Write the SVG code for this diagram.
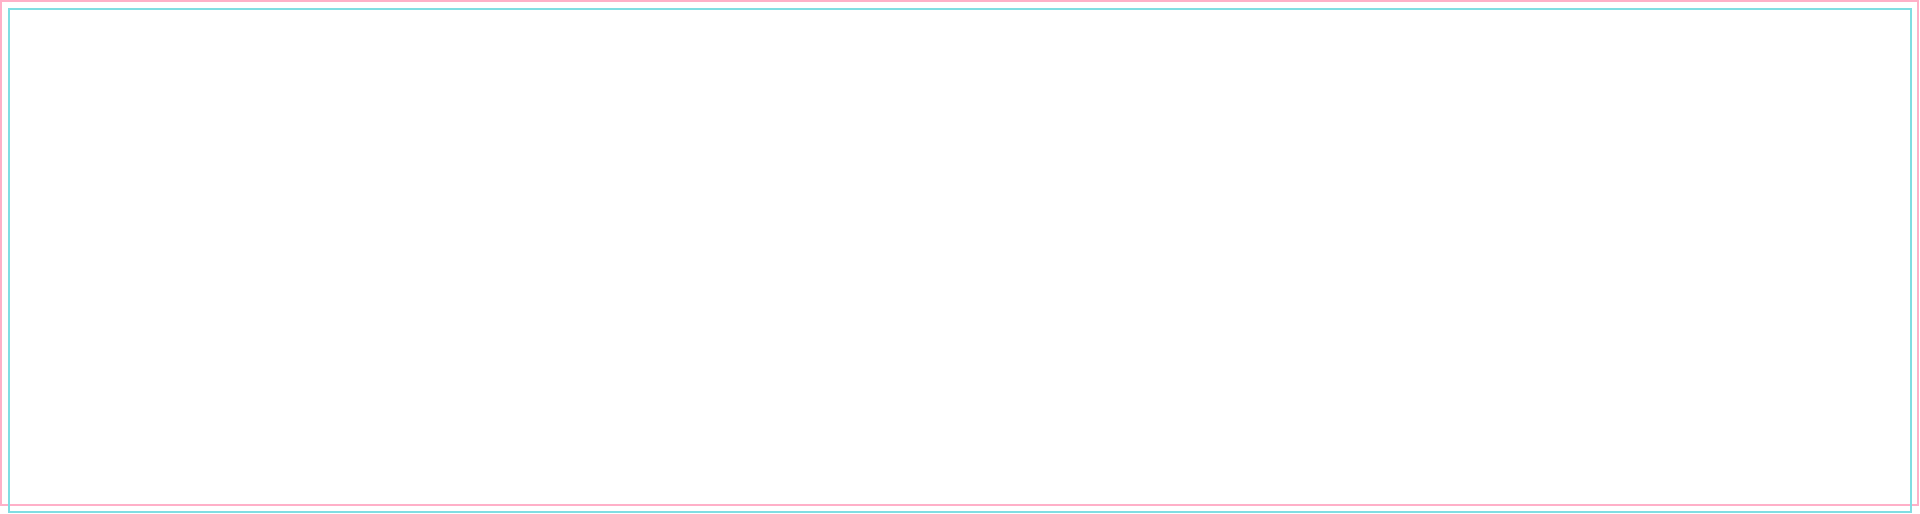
<svg xmlns="http://www.w3.org/2000/svg" width="1920" height="514" viewBox="0 0 1920 514">
<style>
.frame{fill:none;stroke-width:2}
.pink{stroke:#ffb0c8}
.cyan{stroke:#80dde2}
</style>
<rect width="1920" height="514" fill="#ffffff"/>
<g id="outer-frame"><rect class="frame pink" x="1" y="1" width="1917" height="504"/></g>
<g id="inner-frame"><rect class="frame cyan" x="9" y="9" width="1902" height="503"/></g>
</svg>
